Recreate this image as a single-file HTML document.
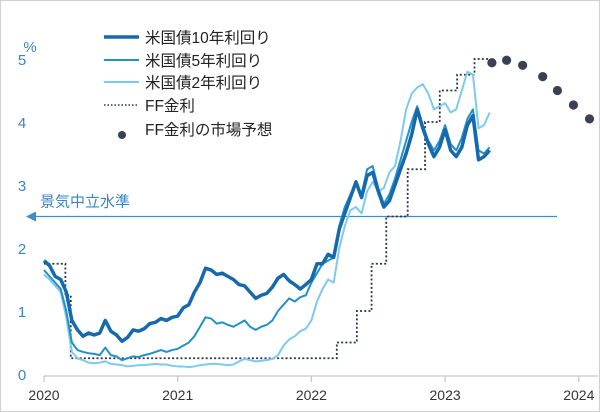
<!DOCTYPE html>
<html><head><meta charset="utf-8">
<style>
html,body{margin:0;padding:0;background:#fff;}
#wrap{width:598px;height:410px;border:1px solid #cfcfcf;position:relative;overflow:hidden;background:#fff;}
svg{position:absolute;left:-1px;top:-1px;}
text{font-family:"Liberation Sans","Noto Sans CJK JP",sans-serif;}
</style></head>
<body>
<div id="wrap">
<svg id="chart" width="600" height="412" viewBox="0 0 600 412"></svg>
</div>
<script>
const yTicks=[0,1,2,3,4,5];
const xTicks=[2020,2021,2022,2023,2024];
const neutralRate=2.5;
const t10=[1.80,1.72,1.55,1.50,1.30,0.85,0.70,0.60,0.65,0.62,0.65,0.85,0.68,0.62,0.52,0.58,0.70,0.68,0.72,0.80,0.82,0.88,0.85,0.90,
0.92,1.05,1.10,1.30,1.45,1.68,1.65,1.58,1.60,1.55,1.50,1.42,1.40,1.30,1.20,1.25,1.28,1.38,1.52,1.58,1.48,1.42,1.35,1.42,
1.50,1.75,1.75,1.90,1.85,2.30,2.55,2.80,3.05,2.80,3.15,3.20,2.90,2.65,2.75,3.00,3.25,3.50,3.80,4.20,3.90,3.65,3.45,3.60,
3.88,3.55,3.45,3.60,3.95,4.10,3.40,3.45,3.55];
const t5=[1.65,1.55,1.45,1.35,1.00,0.50,0.38,0.35,0.33,0.32,0.30,0.42,0.30,0.28,0.22,0.25,0.28,0.27,0.30,0.32,0.35,0.38,0.35,0.38,
0.40,0.45,0.50,0.60,0.75,0.90,0.88,0.80,0.82,0.78,0.75,0.80,0.85,0.75,0.70,0.75,0.78,0.85,1.00,1.10,1.20,1.15,1.22,1.25,
1.45,1.60,1.75,1.80,1.85,2.35,2.65,2.85,3.05,2.85,3.25,3.30,2.95,2.70,2.85,3.10,3.40,3.70,4.00,4.25,3.95,3.70,3.55,3.70,
3.95,3.65,3.55,3.75,4.05,4.20,3.55,3.50,3.60];
const t2=[1.58,1.50,1.40,1.30,0.90,0.35,0.25,0.22,0.18,0.17,0.18,0.20,0.16,0.15,0.14,0.12,0.13,0.14,0.14,0.15,0.16,0.15,0.15,0.13,
0.12,0.12,0.11,0.12,0.14,0.15,0.16,0.16,0.15,0.14,0.15,0.20,0.24,0.22,0.20,0.21,0.22,0.24,0.30,0.45,0.55,0.60,0.68,0.72,
0.85,1.15,1.35,1.50,1.45,2.00,2.35,2.60,2.65,2.55,2.90,3.05,2.90,2.95,3.20,3.30,3.70,4.20,4.45,4.55,4.60,4.45,4.20,4.25,
4.30,4.15,4.20,4.50,4.80,4.75,3.90,3.95,4.15];
const ffDates=[2020.0,2020.16,2020.2,2022.19,2022.34,2022.45,2022.56,2022.72,2022.85,2022.96,2023.09,2023.22,2023.34];
const ffValues=[1.75,1.25,0.25,0.5,1.0,1.75,2.5,3.25,4.0,4.5,4.75,5.0,5.0];
const fcDates=[2023.35,2023.46,2023.58,2023.73,2023.84,2023.96,2024.08];
const fcValues=[4.94,4.98,4.90,4.72,4.50,4.27,4.05];

const NS='http://www.w3.org/2000/svg';
const svg=document.getElementById('chart');
const X=yr=>44+(yr-2020)*133.7;
const Y=v=>374-v*63;
const sDate=i=>2020+i/24;
function mk(tag,attrs,parent){const e=document.createElementNS(NS,tag);for(const k in attrs)e.setAttribute(k,attrs[k]);(parent||svg).appendChild(e);return e;}

// y tick labels
yTicks.forEach(v=>{
  const t=mk('text',{x:22,y:Y(v)+6,'text-anchor':'middle','font-size':15,fill:'#3a86c4'});
  
  
  t.textContent=v;
});
const pct=mk('text',{x:30,y:52,'text-anchor':'middle','font-size':15,fill:'#3a86c4'});


pct.textContent='%';

// x axis
const ax=mk('line',{x1:X(2020),y1:376,x2:598,y2:376,stroke:'#c8c8c8','stroke-width':1.3});


xTicks.forEach(yr=>{
  const tk=mk('line',{x1:X(yr),y1:376,x2:X(yr),y2:382,stroke:'#c8c8c8','stroke-width':1.3});
  
  
  const t=mk('text',{x:X(yr),y:400,'text-anchor':'middle','font-size':14,fill:'#333'});
  
  
  t.textContent=yr;
});

// neutral line with arrow
const nl=mk('line',{x1:34,y1:Y(neutralRate),x2:557,y2:Y(neutralRate),stroke:'#3a8ecb','stroke-width':1.3});


const ar=mk('path',{d:`M26 ${Y(neutralRate)} L36 ${Y(neutralRate)-5} L36 ${Y(neutralRate)+5} Z`,fill:'#3a8ecb'});


const nlab=mk('text',{x:40,y:Y(neutralRate)-10,'font-size':15,fill:'#3a86c4'});


nlab.textContent='景気中立水準';

// FF step line
let d='';
ffDates.forEach((dt,i)=>{
  if(i===0) d+=`M${X(dt)} ${Y(ffValues[i])}`;
  else d+=` L${X(dt)} ${Y(ffValues[i-1])} L${X(dt)} ${Y(ffValues[i])}`;
});
const ff=mk('path',{d:d,fill:'none',stroke:'#2b3352','stroke-width':1.8,'stroke-dasharray':'2 2.2'});



function series(arr,color,w,name){
  const p=mk('polyline',{points:arr.map((v,i)=>X(sDate(i))+','+Y(v)).join(' '),fill:'none',stroke:color,'stroke-width':w,'stroke-linejoin':'round'});
  
  
}
series(t2,'#7ccaf0',2,'treasury-2y-line');
series(t5,'#2291c6',2,'treasury-5y-line');
series(t10,'#1769ad',3.5,'treasury-10y-line');

fcDates.forEach((dt,i)=>{
  const c=mk('circle',{cx:X(dt),cy:Y(fcValues[i]),r:4.6,fill:'#3b4152'});
  
  
});

// legend
const lg=mk('g',{});


const rows=[['米国債10年利回り','#1769ad',3.5,'line'],['米国債5年利回り','#2291c6',2,'line'],['米国債2年利回り','#7ccaf0',2,'line'],['FF金利','#2b3352',1.5,'dot'],['FF金利の市場予想','#3b4152',0,'circle']];
const rowY=[37,60,82,105,129];
rows.forEach((r,i)=>{
  const y=rowY[i];
  if(r[3]==='line') mk('line',{x1:104,y1:y,x2:139,y2:y,stroke:r[1],'stroke-width':r[2]},lg);
  else if(r[3]==='dot') mk('line',{x1:104,y1:y,x2:139,y2:y,stroke:r[1],'stroke-width':1.5,'stroke-dasharray':'1.5 2'},lg);
  else mk('circle',{cx:122,cy:y+6,r:4,fill:r[1]},lg);
  const t=mk('text',{x:145,y:y+6,'font-size':15.5,fill:'#222'},lg);
  
  
  t.textContent=r[0];
});
</script>
</body></html>
